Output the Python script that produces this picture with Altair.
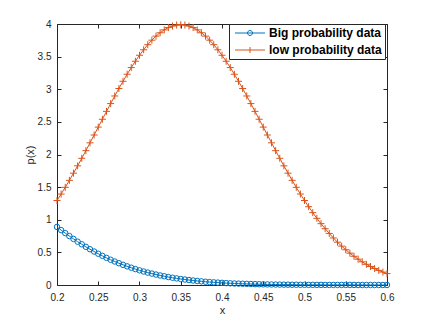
import altair as alt
import pandas as pd

# sample positions (x grid, step 0.005)
x_values = [round(0.2 + 0.005 * i, 3) for i in range(81)]

big_prob = [
    0.890, 0.841, 0.795, 0.750, 0.706, 0.664, 0.624, 0.585, 0.548, 0.513,
    0.479, 0.447, 0.416, 0.387, 0.360, 0.334, 0.309, 0.286, 0.265, 0.244,
    0.225, 0.207, 0.190, 0.175, 0.160, 0.146, 0.134, 0.122, 0.111, 0.101,
    0.092, 0.084, 0.076, 0.069, 0.062, 0.056, 0.050, 0.045, 0.041, 0.037,
    0.033, 0.029, 0.026, 0.023, 0.021, 0.019, 0.017, 0.015, 0.013, 0.012,
    0.010, 0.009, 0.008, 0.007, 0.006, 0.005, 0.005, 0.004, 0.004, 0.003,
    0.003, 0.002, 0.002, 0.002, 0.002, 0.001, 0.001, 0.001, 0.001, 0.001,
    0.001, 0.001, 0.001, 0.000, 0.000, 0.000, 0.000, 0.000, 0.000, 0.000,
    0.000,
]

low_prob = [
    1.295, 1.394, 1.497, 1.604, 1.714, 1.826, 1.942, 2.059, 2.179, 2.299,
    2.420, 2.540, 2.661, 2.780, 2.897, 3.011, 3.122, 3.230, 3.332, 3.429,
    3.521, 3.605, 3.683, 3.752, 3.814, 3.866, 3.910, 3.945, 3.969, 3.984,
    3.989,
    3.984, 3.969, 3.945, 3.910, 3.866, 3.814, 3.752, 3.683, 3.605, 3.521,
    3.429, 3.332, 3.230, 3.122, 3.011, 2.897, 2.780, 2.661, 2.540, 2.420,
    2.299, 2.179, 2.059, 1.942, 1.826, 1.714, 1.604, 1.497, 1.394, 1.295,
    1.200, 1.109, 1.022, 0.940, 0.863, 0.790, 0.721, 0.656, 0.596, 0.540,
    0.488, 0.440, 0.396, 0.355, 0.317, 0.283, 0.252, 0.224, 0.198, 0.175,
]

series_names = ["Big probability data", "low probability data"]
series_colors = ["#0072BD", "#D95319"]
x_ticks = [0.2, 0.25, 0.3, 0.35, 0.4, 0.45, 0.5, 0.55, 0.6]
y_ticks = [0, 0.5, 1, 1.5, 2, 2.5, 3, 3.5, 4]

rows = []
for name, vals in zip(series_names, [big_prob, low_prob]):
    for xv, yv in zip(x_values, vals):
        rows.append({"x": xv, "y": yv, "series": name})
df = pd.DataFrame(rows)

DARK = "#262626"
FONT = "Liberation Sans"

x_scale = alt.Scale(domain=[0.2, 0.6], nice=False, zero=False)
y_scale = alt.Scale(domain=[0, 4], nice=False)

x_axis = alt.Axis(values=x_ticks, format="~g", title="x", orient="bottom",
                  grid=False, tickSize={"expr": "-4"}, labelPadding=11,
                  titlePadding=2, labelFlush=False)
y_axis = alt.Axis(values=y_ticks, format="~g", title="p(x)", orient="left",
                  grid=False, tickSize={"expr": "-4"}, labelPadding=10,
                  titlePadding=2)
x_axis_top = alt.Axis(values=x_ticks, orient="top", labels=False, title=None,
                      grid=False, tickSize={"expr": "-4"})
y_axis_right = alt.Axis(values=y_ticks, orient="right", labels=False, title=None,
                        grid=False, tickSize={"expr": "-4"})

color_scale = alt.Scale(domain=series_names, range=series_colors)

circle_leg = "M-3,0H3M0.5,0A0.5,0.5 0 1,1 -0.5,0A0.5,0.5 0 1,1 0.5,0"
plus_leg = "M-3,0H3M0,-0.6V0.6"
shape_signal = f"datum.value === '{series_names[0]}' ? '{circle_leg}' : '{plus_leg}'"

legend = alt.Legend(
    title=None, orient="none", legendX=172, legendY=0,
    strokeColor=DARK, fillColor="white", padding=3,
    labelFont=FONT, labelFontSize=12, labelFontWeight="bold", labelColor="black",
    symbolSize=100, symbolStrokeWidth=1, symbolOffset=12, labelOffset=13,
    rowPadding=5, symbolType={"expr": shape_signal},
)

base = alt.Chart(df)

lines = base.mark_line(strokeWidth=1).encode(
    x=alt.X("x:Q", scale=x_scale, axis=x_axis),
    y=alt.Y("y:Q", scale=y_scale, axis=y_axis),
    color=alt.Color("series:N", scale=color_scale, legend=legend),
)

marker_shapes = ["circle", "M-1,0H1M0,-1V1"]
marker_sizes = [30, 49]
point_layers = []
for name, col, shp, sz in zip(series_names, series_colors, marker_shapes, marker_sizes):
    point_layers.append(
        base.transform_filter(alt.datum.series == name).mark_point(
            filled=False, strokeWidth=1, size=sz, shape=shp, color=col, opacity=1
        ).encode(
            x=alt.X("x:Q", scale=x_scale, axis=x_axis),
            y=alt.Y("y:Q", scale=y_scale, axis=y_axis),
        )
    )

inner = alt.layer(lines, *point_layers)

frame = base.mark_point(opacity=0).encode(
    x=alt.X("x:Q", scale=x_scale, axis=x_axis_top),
    y=alt.Y("y:Q", scale=y_scale, axis=y_axis_right),
)

chart = alt.layer(inner, frame).resolve_axis(
    x="independent", y="independent"
).properties(
    width=330, height=261,
    autosize=alt.AutoSizeParams(type="none"),
    padding={"left": 49, "top": 16, "right": 33, "bottom": 33},
    background="white",
).configure_view(stroke=None).configure_axis(
    domainColor=DARK, domainWidth=1, tickColor=DARK, tickWidth=1,
    labelFont=FONT, labelFontSize=10, labelColor=DARK,
    titleFont=FONT, titleFontSize=11, titleColor=DARK, titleFontWeight="normal",
)

chart.save("out.html", embed_options={"renderer": "svg", "actions": False})
